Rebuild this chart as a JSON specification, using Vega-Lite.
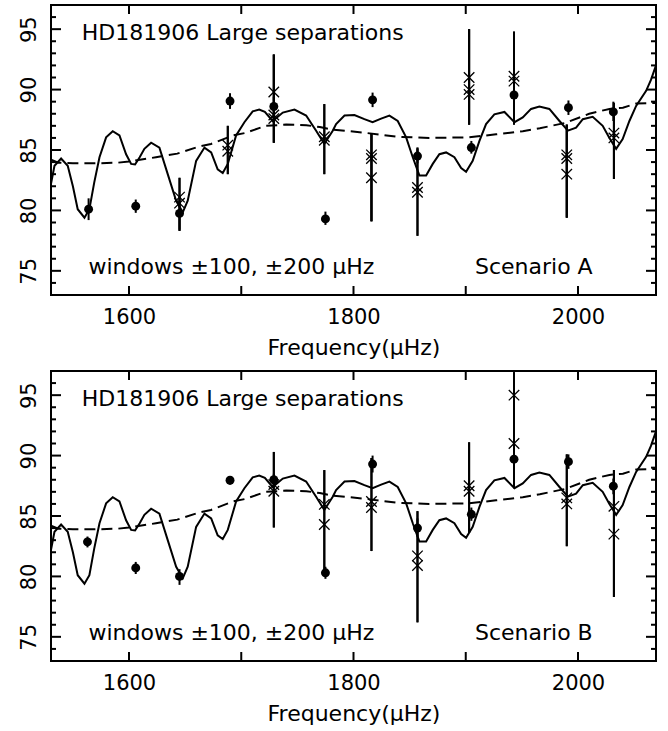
{
"$schema": "https://vega.github.io/schema/vega-lite/v6.json",
"padding": {"left": 16, "top": 3, "right": 5, "bottom": 5},
"background": "white",
"config": {"view": {"stroke": "black", "strokeWidth": 2}, "font": "DejaVu Sans"},
"spacing": 10,
"datasets": {
"xt": [{"t":1600},{"t":1700},{"t":1800},{"t":1900},{"t":2000}],
"ymaj": [{"t":75},{"t":80},{"t":85},{"t":90},{"t":95}],
"ymin": [{"t":74},{"t":76},{"t":77},{"t":78},{"t":79},{"t":81},{"t":82},{"t":83},{"t":84},{"t":86},{"t":87},{"t":88},{"t":89},{"t":91},{"t":92},{"t":93},{"t":94},{"t":96}],
"model": [
{"f":1530.5,"v":82.2},{"f":1533.6,"v":83.7},{"f":1539.5,"v":84.3},{"f":1545.4,"v":83.7},{"f":1550,"v":82.0},{"f":1554.3,"v":80.1},{"f":1560.3,"v":79.4},{"f":1564.7,"v":80.1},{"f":1569,"v":82.3},{"f":1573.7,"v":84.4},{"f":1579.6,"v":86.05},{"f":1585.5,"v":86.55},{"f":1591.5,"v":86.2},{"f":1597.4,"v":84.65},{"f":1601.9,"v":83.85},{"f":1605.4,"v":83.8},{"f":1609.5,"v":84.4},{"f":1613.7,"v":85.1},{"f":1619.7,"v":85.6},{"f":1627.1,"v":85.2},{"f":1634.5,"v":83.0},{"f":1642,"v":80.8},{"f":1647.9,"v":79.84},{"f":1652.3,"v":80.8},{"f":1659.8,"v":84.1},{"f":1667.2,"v":85.2},{"f":1673.2,"v":84.8},{"f":1679,"v":83.4},{"f":1683.5,"v":83.1},{"f":1688,"v":83.85},{"f":1695.4,"v":86.2},{"f":1702.8,"v":87.3},{"f":1710.2,"v":88.2},{"f":1716,"v":88.35},{"f":1721,"v":88.15},{"f":1728,"v":87.4},{"f":1737,"v":88.1},{"f":1747.4,"v":88.35},{"f":1757.8,"v":87.85},{"f":1766.7,"v":86.6},{"f":1774,"v":85.5},{"f":1781.5,"v":86.6},{"f":1784.5,"v":87.15},{"f":1792,"v":87.85},{"f":1800.8,"v":87.9},{"f":1809.7,"v":87.55},{"f":1817,"v":87.3},{"f":1824.6,"v":87.6},{"f":1832,"v":87.85},{"f":1839.4,"v":87.4},{"f":1846.9,"v":86.05},{"f":1852.8,"v":84.4},{"f":1858.7,"v":82.9},{"f":1864.7,"v":82.9},{"f":1870.6,"v":83.85},{"f":1876.5,"v":84.65},{"f":1882.5,"v":84.8},{"f":1889.9,"v":84.4},{"f":1895.9,"v":83.5},{"f":1900.3,"v":83.2},{"f":1906.2,"v":84.1},{"f":1912.2,"v":85.75},{"f":1918.1,"v":87.15},{"f":1925.5,"v":87.95},{"f":1934.5,"v":88.15},{"f":1943.4,"v":87.3},{"f":1950.8,"v":87.7},{"f":1958.2,"v":88.4},{"f":1965.6,"v":88.6},{"f":1974.5,"v":88.4},{"f":1983.5,"v":87.4},{"f":1991,"v":86.6},{"f":1998.3,"v":86.85},{"f":2004.3,"v":87.55},{"f":2013.1,"v":87.75},{"f":2022,"v":87.0},{"f":2028,"v":86.0},{"f":2034,"v":85.1},{"f":2039.8,"v":85.9},{"f":2045.8,"v":87.4},{"f":2051.8,"v":88.65},{"f":2060.7,"v":89.9},{"f":2065,"v":90.8},{"f":2069.5,"v":92.0}
],
"smooth": [
{"f":1530.5,"v":84.2},{"f":1537,"v":83.95},{"f":1550,"v":83.9},{"f":1570,"v":83.9},{"f":1590,"v":83.95},{"f":1600,"v":84.05},{"f":1624,"v":84.4},{"f":1643,"v":84.7},{"f":1662.7,"v":85.3},{"f":1673,"v":85.5},{"f":1692.4,"v":86.2},{"f":1703,"v":86.4},{"f":1722,"v":87.0},{"f":1740,"v":87.1},{"f":1758,"v":87.05},{"f":1770,"v":86.9},{"f":1780,"v":86.7},{"f":1808,"v":86.45},{"f":1838,"v":86.1},{"f":1867.6,"v":86.0},{"f":1903,"v":86.05},{"f":1927,"v":86.3},{"f":1950.8,"v":86.55},{"f":1966,"v":86.8},{"f":1989,"v":87.25},{"f":2010,"v":88.0},{"f":2028,"v":88.4},{"f":2040,"v":88.5},{"f":2052,"v":88.85},{"f":2069.5,"v":88.9}
],
"circA": [
{"f":1564,"v":80.1,"lo":79.2,"hi":81.0},{"f":1606,"v":80.35,"lo":79.8,"hi":80.9},{"f":1645,"v":79.75,"lo":78.4,"hi":81.1},{"f":1690,"v":89.05,"lo":88.4,"hi":89.7},{"f":1729,"v":88.6,"lo":87.8,"hi":89.4},{"f":1775,"v":79.3,"lo":78.8,"hi":79.9},{"f":1817,"v":89.15,"lo":88.55,"hi":89.75},{"f":1857,"v":84.5,"lo":83.9,"hi":85.1},{"f":1905,"v":85.2,"lo":84.7,"hi":85.75},{"f":1943,"v":89.55,"lo":88.9,"hi":90.3},{"f":1991.5,"v":88.5,"lo":87.9,"hi":89.1},{"f":2031.5,"v":88.15,"lo":87.4,"hi":89.0}
],
"crossA": [
{"f":1645,"v":81.1,"lo":78.3,"hi":82.7},{"f":1645,"v":80.6,"lo":78.3,"hi":82.7},
{"f":1688,"v":85.4,"lo":83.0,"hi":87.0},{"f":1688,"v":84.9,"lo":83.0,"hi":87.0},
{"f":1729,"v":89.8,"lo":85.6,"hi":92.9},{"f":1729,"v":87.9,"lo":85.6,"hi":92.9},{"f":1729,"v":87.6,"lo":85.6,"hi":92.9},
{"f":1774,"v":86.1,"lo":83.0,"hi":88.8},{"f":1774,"v":85.8,"lo":83.0,"hi":88.8},
{"f":1816,"v":84.6,"lo":79.1,"hi":86.4},{"f":1816,"v":84.3,"lo":79.1,"hi":86.4},{"f":1816,"v":82.7,"lo":79.1,"hi":86.4},
{"f":1857,"v":81.9,"lo":77.9,"hi":85.2},{"f":1857,"v":81.5,"lo":77.9,"hi":85.2},
{"f":1903,"v":91.0,"lo":87.1,"hi":95.0},{"f":1903,"v":90.0,"lo":87.1,"hi":95.0},{"f":1903,"v":89.6,"lo":87.1,"hi":95.0},
{"f":1943,"v":91.1,"lo":87.1,"hi":94.8},{"f":1943,"v":90.7,"lo":87.1,"hi":94.8},
{"f":1990,"v":84.6,"lo":79.4,"hi":87.1},{"f":1990,"v":84.3,"lo":79.4,"hi":87.1},{"f":1990,"v":83.0,"lo":79.4,"hi":87.1},
{"f":2032,"v":86.4,"lo":82.6,"hi":88.9},{"f":2032,"v":86.0,"lo":82.6,"hi":88.9}
],
"circB": [
{"f":1563,"v":82.86,"lo":82.4,"hi":83.3},{"f":1606,"v":80.7,"lo":80.2,"hi":81.2},{"f":1645,"v":80.0,"lo":79.3,"hi":80.6},{"f":1690,"v":87.96,"lo":87.6,"hi":88.3},{"f":1729,"v":88.0,"lo":87.5,"hi":88.5},{"f":1775,"v":80.3,"lo":79.8,"hi":80.8},{"f":1817,"v":89.3,"lo":88.6,"hi":90.0},{"f":1857,"v":84.0,"lo":83.3,"hi":84.8},{"f":1905,"v":85.14,"lo":84.6,"hi":85.7},{"f":1943,"v":89.7,"lo":89.0,"hi":90.4},{"f":1991.5,"v":89.5,"lo":88.9,"hi":90.1},{"f":2031.5,"v":87.47,"lo":86.8,"hi":88.1}
],
"crossB": [
{"f":1729,"v":87.6,"lo":84.05,"hi":90.3},{"f":1729,"v":87.05,"lo":84.05,"hi":90.3},
{"f":1774,"v":85.96,"lo":80.07,"hi":88.8},{"f":1774,"v":84.3,"lo":80.07,"hi":88.8},
{"f":1816,"v":86.2,"lo":82.1,"hi":89.8},{"f":1816,"v":85.7,"lo":82.1,"hi":89.8},
{"f":1857,"v":81.7,"lo":76.2,"hi":85.4},{"f":1857,"v":80.9,"lo":76.2,"hi":85.4},
{"f":1903,"v":87.5,"lo":83.6,"hi":91.1},{"f":1903,"v":87.05,"lo":83.6,"hi":91.1},
{"f":1943,"v":95.0,"lo":87.3,"hi":96.9},{"f":1943,"v":91.0,"lo":87.3,"hi":96.9},
{"f":1990,"v":86.5,"lo":82.5,"hi":90.1},{"f":1990,"v":86.0,"lo":82.5,"hi":90.1},
{"f":2032,"v":85.8,"lo":78.3,"hi":88.8},{"f":2032,"v":83.5,"lo":78.3,"hi":88.8}
]
},
"vconcat": [
{
"width": 605, "height": 290,
"layer": [
{"data": {"name": "model"}, "mark": {"type": "line", "color": "black", "strokeWidth": 2, "clip": true},
 "encoding": {
  "x": {"field": "f", "type": "quantitative", "scale": {"domain": [1530.5, 2069.5], "nice": false, "zero": false},
   "axis": {"orient": "bottom", "values": [1600,1800,2000], "format": "d", "ticks": false, "domain": false, "grid": false, "labelFont": "DejaVu Sans", "labelFontSize": 21, "labelColor": "black", "labelPadding": 11, "labelFlush": false, "labelOverlap": false, "title": "Frequency(μHz)", "titleFont": "DejaVu Sans", "titleFontSize": 22, "titleFontWeight": "normal", "titleColor": "black", "titlePadding": 10}},
  "y": {"field": "v", "type": "quantitative", "scale": {"domain": [73, 97], "nice": false, "zero": false},
   "axis": {"orient": "left", "values": [75,80,85,90,95], "ticks": false, "domain": false, "grid": false, "labelFont": "DejaVu Sans", "labelFontSize": 21, "labelColor": "black", "labelAngle": 270, "labelAlign": "center", "labelBaseline": "alphabetic", "labelPadding": 16, "labelOverlap": false, "labelFlush": false, "title": null}}
 }},
{"data": {"name": "smooth"}, "mark": {"type": "line", "color": "black", "strokeWidth": 2, "strokeDash": [11, 6], "clip": true},
 "encoding": {"x": {"field": "f", "type": "quantitative"}, "y": {"field": "v", "type": "quantitative"}}},
{"data": {"name": "xt"}, "mark": {"type": "rule", "color": "black", "strokeWidth": 2},
 "encoding": {"x": {"field": "t", "type": "quantitative"}, "y": {"datum": 73}, "y2": {"datum": 73.745}}},
{"data": {"name": "xt"}, "mark": {"type": "rule", "color": "black", "strokeWidth": 2},
 "encoding": {"x": {"field": "t", "type": "quantitative"}, "y": {"datum": 97}, "y2": {"datum": 96.255}}},
{"data": {"name": "ymaj"}, "mark": {"type": "rule", "color": "black", "strokeWidth": 2},
 "encoding": {"y": {"field": "t", "type": "quantitative"}, "x": {"datum": 1530.5}, "x2": {"datum": 1539.41}}},
{"data": {"name": "ymaj"}, "mark": {"type": "rule", "color": "black", "strokeWidth": 2},
 "encoding": {"y": {"field": "t", "type": "quantitative"}, "x": {"datum": 2069.5}, "x2": {"datum": 2060.59}}},
{"data": {"name": "ymin"}, "mark": {"type": "rule", "color": "black", "strokeWidth": 2},
 "encoding": {"y": {"field": "t", "type": "quantitative"}, "x": {"datum": 1530.5}, "x2": {"datum": 1534.95}}},
{"data": {"name": "ymin"}, "mark": {"type": "rule", "color": "black", "strokeWidth": 2},
 "encoding": {"y": {"field": "t", "type": "quantitative"}, "x": {"datum": 2069.5}, "x2": {"datum": 2065.05}}},
{"data": {"name": "circA"}, "mark": {"type": "rule", "color": "black", "strokeWidth": 2},
 "encoding": {"x": {"field": "f", "type": "quantitative"}, "y": {"field": "lo", "type": "quantitative"}, "y2": {"field": "hi"}}},
{"data": {"name": "crossA"}, "mark": {"type": "rule", "color": "black", "strokeWidth": 2},
 "encoding": {"x": {"field": "f", "type": "quantitative"}, "y": {"field": "lo", "type": "quantitative"}, "y2": {"field": "hi"}}},
{"data": {"name": "circA"}, "mark": {"type": "point", "shape": "circle", "filled": true, "color": "black", "size": 80, "opacity": 1},
 "encoding": {"x": {"field": "f", "type": "quantitative"}, "y": {"field": "v", "type": "quantitative"}}},
{"data": {"name": "crossA"}, "mark": {"type": "point", "shape": "M -1 -1 L 1 1 M -1 1 L 1 -1", "filled": false, "color": "black", "strokeWidth": 1.3, "size": 110, "opacity": 1},
 "encoding": {"x": {"field": "f", "type": "quantitative"}, "y": {"field": "v", "type": "quantitative"}}},
{"data": {"values": [{"label": "HD181906 Large separations"}]}, "mark": {"type": "text", "align": "left", "baseline": "alphabetic", "font": "DejaVu Sans", "fontSize": 22, "color": "black"},
 "encoding": {"x": {"datum": 1557.9}, "y": {"datum": 94.08}, "text": {"field": "label"}}},
{"data": {"values": [{"label": "windows ±100, ±200 μHz"}]}, "mark": {"type": "text", "align": "left", "baseline": "alphabetic", "font": "DejaVu Sans", "fontSize": 22, "color": "black"},
 "encoding": {"x": {"datum": 1563.9}, "y": {"datum": 74.74}, "text": {"field": "label"}}},
{"data": {"values": [{"label": "Scenario A"}]}, "mark": {"type": "text", "align": "left", "baseline": "alphabetic", "font": "DejaVu Sans", "fontSize": 22, "color": "black"},
 "encoding": {"x": {"datum": 1908.2}, "y": {"datum": 74.74}, "text": {"field": "label"}}}
]
},
{
"width": 605, "height": 290,
"layer": [
{"data": {"name": "model"}, "mark": {"type": "line", "color": "black", "strokeWidth": 2, "clip": true},
 "encoding": {
  "x": {"field": "f", "type": "quantitative", "scale": {"domain": [1530.5, 2069.5], "nice": false, "zero": false},
   "axis": {"orient": "bottom", "values": [1600,1800,2000], "format": "d", "ticks": false, "domain": false, "grid": false, "labelFont": "DejaVu Sans", "labelFontSize": 21, "labelColor": "black", "labelPadding": 11, "labelFlush": false, "labelOverlap": false, "title": "Frequency(μHz)", "titleFont": "DejaVu Sans", "titleFontSize": 22, "titleFontWeight": "normal", "titleColor": "black", "titlePadding": 10}},
  "y": {"field": "v", "type": "quantitative", "scale": {"domain": [73, 97], "nice": false, "zero": false},
   "axis": {"orient": "left", "values": [75,80,85,90,95], "ticks": false, "domain": false, "grid": false, "labelFont": "DejaVu Sans", "labelFontSize": 21, "labelColor": "black", "labelAngle": 270, "labelAlign": "center", "labelBaseline": "alphabetic", "labelPadding": 16, "labelOverlap": false, "labelFlush": false, "title": null}}
 }},
{"data": {"name": "smooth"}, "mark": {"type": "line", "color": "black", "strokeWidth": 2, "strokeDash": [11, 6], "clip": true},
 "encoding": {"x": {"field": "f", "type": "quantitative"}, "y": {"field": "v", "type": "quantitative"}}},
{"data": {"name": "xt"}, "mark": {"type": "rule", "color": "black", "strokeWidth": 2},
 "encoding": {"x": {"field": "t", "type": "quantitative"}, "y": {"datum": 73}, "y2": {"datum": 73.745}}},
{"data": {"name": "xt"}, "mark": {"type": "rule", "color": "black", "strokeWidth": 2},
 "encoding": {"x": {"field": "t", "type": "quantitative"}, "y": {"datum": 97}, "y2": {"datum": 96.255}}},
{"data": {"name": "ymaj"}, "mark": {"type": "rule", "color": "black", "strokeWidth": 2},
 "encoding": {"y": {"field": "t", "type": "quantitative"}, "x": {"datum": 1530.5}, "x2": {"datum": 1539.41}}},
{"data": {"name": "ymaj"}, "mark": {"type": "rule", "color": "black", "strokeWidth": 2},
 "encoding": {"y": {"field": "t", "type": "quantitative"}, "x": {"datum": 2069.5}, "x2": {"datum": 2060.59}}},
{"data": {"name": "ymin"}, "mark": {"type": "rule", "color": "black", "strokeWidth": 2},
 "encoding": {"y": {"field": "t", "type": "quantitative"}, "x": {"datum": 1530.5}, "x2": {"datum": 1534.95}}},
{"data": {"name": "ymin"}, "mark": {"type": "rule", "color": "black", "strokeWidth": 2},
 "encoding": {"y": {"field": "t", "type": "quantitative"}, "x": {"datum": 2069.5}, "x2": {"datum": 2065.05}}},
{"data": {"name": "circB"}, "mark": {"type": "rule", "color": "black", "strokeWidth": 2},
 "encoding": {"x": {"field": "f", "type": "quantitative"}, "y": {"field": "lo", "type": "quantitative"}, "y2": {"field": "hi"}}},
{"data": {"name": "crossB"}, "mark": {"type": "rule", "color": "black", "strokeWidth": 2},
 "encoding": {"x": {"field": "f", "type": "quantitative"}, "y": {"field": "lo", "type": "quantitative"}, "y2": {"field": "hi"}}},
{"data": {"name": "circB"}, "mark": {"type": "point", "shape": "circle", "filled": true, "color": "black", "size": 80, "opacity": 1},
 "encoding": {"x": {"field": "f", "type": "quantitative"}, "y": {"field": "v", "type": "quantitative"}}},
{"data": {"name": "crossB"}, "mark": {"type": "point", "shape": "M -1 -1 L 1 1 M -1 1 L 1 -1", "filled": false, "color": "black", "strokeWidth": 1.3, "size": 110, "opacity": 1},
 "encoding": {"x": {"field": "f", "type": "quantitative"}, "y": {"field": "v", "type": "quantitative"}}},
{"data": {"values": [{"label": "HD181906 Large separations"}]}, "mark": {"type": "text", "align": "left", "baseline": "alphabetic", "font": "DejaVu Sans", "fontSize": 22, "color": "black"},
 "encoding": {"x": {"datum": 1557.9}, "y": {"datum": 94.08}, "text": {"field": "label"}}},
{"data": {"values": [{"label": "windows ±100, ±200 μHz"}]}, "mark": {"type": "text", "align": "left", "baseline": "alphabetic", "font": "DejaVu Sans", "fontSize": 22, "color": "black"},
 "encoding": {"x": {"datum": 1563.9}, "y": {"datum": 74.74}, "text": {"field": "label"}}},
{"data": {"values": [{"label": "Scenario B"}]}, "mark": {"type": "text", "align": "left", "baseline": "alphabetic", "font": "DejaVu Sans", "fontSize": 22, "color": "black"},
 "encoding": {"x": {"datum": 1908.2}, "y": {"datum": 74.74}, "text": {"field": "label"}}}
]
}
]
}
